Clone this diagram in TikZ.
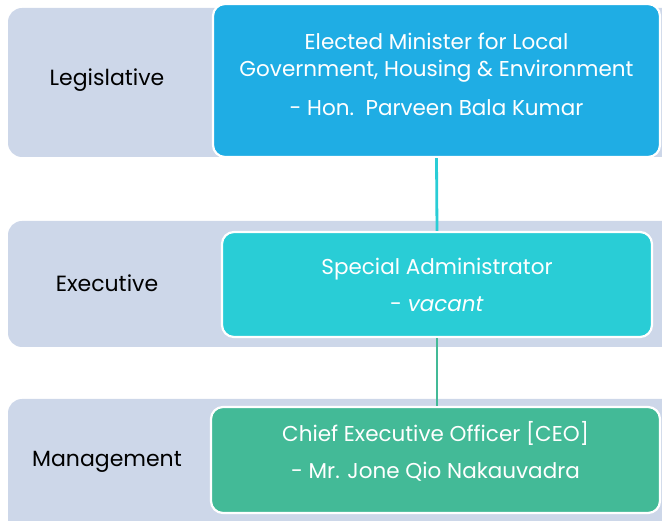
\documentclass[tikz,border=0pt]{standalone}
\usepackage{fontspec}
\setmainfont{Poppins}

\definecolor{bandgray}{HTML}{CDD7E9}
\definecolor{ministerblue}{HTML}{1FADE4}
\definecolor{adminteal}{HTML}{29CDD6}
\definecolor{ceogreen}{HTML}{43BA97}

\begin{document}
\begin{tikzpicture}[x=1pt, y=-1pt,
  band/.style={fill=bandgray, rounded corners=14pt},
  tier/.style={font=\fontsize{22}{26}\selectfont},
  post/.style={draw=white, line width=2.2pt, rounded corners=12pt, text=white,
    align=center, inner sep=0pt, font=\fontsize{21.5}{27}\selectfont},
  link/.style={line width=2.8pt}]
  \useasboundingbox (0,0) rectangle (662,521);
  \clip (0,0) rectangle (662,521);

  % background bands
  \fill[band] (8,8) rectangle (700,157);
  \fill[band] (8,221) rectangle (700,347);
  \fill[band] (8,399) rectangle (700,540);

  % tier names
  \node[tier] (legis) at (107,80) {Legislative};
  \node[tier] (exec) at (107,283) {Executive};
  \node[tier] (mgmt) at (107,462) {Management};

  % posts
  \node[post, fill=ministerblue, minimum width=447pt, minimum height=153pt,
    text depth=12pt]
    (minister) at (436.5,80.5)
    {Elected Minister for Local\\Government, Housing \& Environment\\[12pt]- Hon.\ \ Parveen Bala Kumar};
  \node[post, fill=adminteal, minimum width=430pt, minimum height=105pt]
    (admin) at (437,284.5)
    {Special Administrator\\[10pt]- \textit{vacant}};
  \node[post, fill=ceogreen, minimum width=449pt, minimum height=106pt,
    text depth=20pt]
    (ceo) at (435.5,460)
    {Chief Executive Officer [CEO]\\[10pt]- Mr. Jone Qio Nakauvadra};

  % reporting lines
  \draw[link, adminteal] (minister.south) -- (admin.north);
  \draw[link, ceogreen] (admin.south) -- (admin.south |- ceo.north);
\end{tikzpicture}
\end{document}
